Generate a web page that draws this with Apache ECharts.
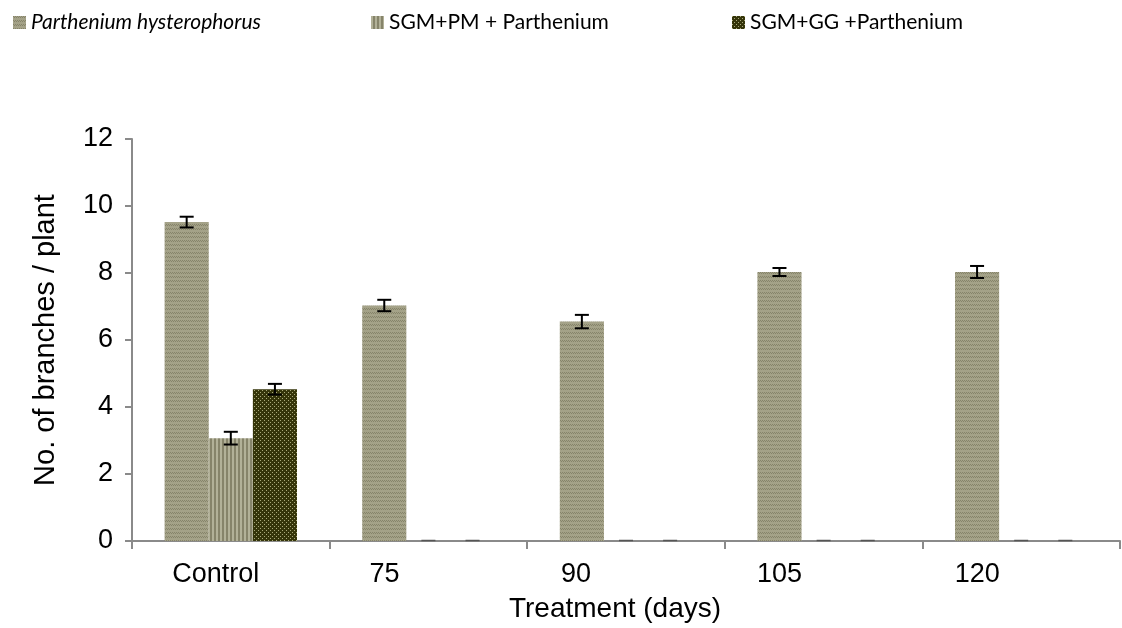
<!DOCTYPE html>
<html>
<head>
<meta charset="utf-8">
<script src="https://cdn.jsdelivr.net/npm/echarts@6/dist/echarts.min.js"></script>
<style>html,body{margin:0;padding:0;background:#fff;}#c{width:1122px;height:628px;}</style>
</head>
<body>
<div id="c"></div>
<script>
// ---- data ----
const categories = ['Control', '75', '90', '105', '120'];
const seriesNames = ['Parthenium hysterophorus', 'SGM+PM + Parthenium', 'SGM+GG +Parthenium'];
const partheniumValues = [9.52, 7.03, 6.55, 8.03, 8.03];
const partheniumErrors = [0.16, 0.17, 0.2, 0.12, 0.18];
const sgmPmValues = [3.07, 0, 0, 0, 0];
const sgmPmErrors = [0.19, 0, 0, 0, 0];
const sgmGgValues = [4.53, 0, 0, 0, 0];
const sgmGgErrors = [0.16, 0, 0, 0, 0];
const yTicks = { min: 0, max: 12, interval: 2 };

// ---- patterns ----
function makeTile(w, h, draw) {
  const c = document.createElement('canvas');
  c.width = w; c.height = h;
  const g = c.getContext('2d');
  draw(g);
  return c;
}
const pat1 = makeTile(4, 4, g => {
  g.fillStyle = '#a4a288'; g.fillRect(0, 0, 4, 4);
  g.fillStyle = '#86846a';
  g.fillRect(0, 0, 1, 1); g.fillRect(2, 0, 1, 1);
  g.fillRect(1, 1, 1, 1); g.fillRect(3, 1, 1, 1);
});
const pat2 = makeTile(4, 4, g => {
  g.fillStyle = '#b2b198'; g.fillRect(0, 0, 4, 4);
  g.fillStyle = '#86846a'; g.fillRect(2, 0, 2, 4);
});
const pat3 = makeTile(4, 4, g => {
  g.fillStyle = '#35350a'; g.fillRect(0, 0, 4, 4);
  g.fillStyle = '#a9a97a';
  g.fillRect(0, 0, 1, 1); g.fillRect(2, 2, 1, 1);
});
const fills = [
  { image: pat1, repeat: 'repeat' },
  { image: pat2, repeat: 'repeat' },
  { image: pat3, repeat: 'repeat' }
];

const GAP = 0.33;
function errSeries(idx, values, errors) {
  return {
    type: 'custom',
    name: 'err' + idx,
    z: 10,
    data: values.map((v, i) => [i, v, errors[i]]),
    renderItem: function (params, api) {
      const x = api.value(0), v = api.value(1), e = api.value(2);
      const catW = api.size([1, 0])[0];
      const barW = catW * (1 - GAP) / 3;
      const cx = api.coord([x, v])[0] + (idx - 1) * barW;
      const top = api.coord([x, v + e])[1];
      const bot = api.coord([x, Math.max(0, v - e)])[1];
      const hw = 7;
      if (e === 0) {
        const y0 = api.coord([x, v])[1];
        return { type: 'line', shape: { x1: cx - hw, y1: y0 - 0.5, x2: cx + hw, y2: y0 - 0.5 },
                 style: { stroke: '#555', lineWidth: 1.5 } };
      }
      const st = { stroke: '#000', lineWidth: 2 };
      return { type: 'group', children: [
        { type: 'line', shape: { x1: cx, y1: top, x2: cx, y2: bot }, style: st },
        { type: 'line', shape: { x1: cx - hw, y1: top, x2: cx + hw, y2: top }, style: st },
        { type: 'line', shape: { x1: cx - hw, y1: bot, x2: cx + hw, y2: bot }, style: st }
      ]};
    }
  };
}

const labelShift = { 'Control': 30, '75': 88, '90': 100, '105': 88, '120': 88 };
const rich = {};
categories.forEach((c, i) => {
  rich['c' + i] = { fontSize: 27, fontFamily: 'Liberation Sans', color: '#000', padding: [0, labelShift[c], 0, 0] };
});

const legendBase = {
  top: 7, itemWidth: 13, itemHeight: 13, icon: 'rect', itemGap: 0,
  textStyle: { fontFamily: 'Lato', fontSize: 21, color: '#000' }
};

const chart = echarts.init(document.getElementById('c'), null, { renderer: 'canvas' });
chart.setOption({
  animation: false,
  backgroundColor: '#fff',
  legend: [
    Object.assign({}, legendBase, { left: 8, data: [seriesNames[0]],
      textStyle: { fontFamily: 'Lato', fontSize: 21, color: '#000', fontStyle: 'italic' } }),
    Object.assign({}, legendBase, { left: 366, data: [seriesNames[1]] }),
    Object.assign({}, legendBase, { left: 727, data: [seriesNames[2]] })
  ],
  grid: { left: 132, right: 2, top: 139, bottom: 79, containLabel: false },
  xAxis: {
    type: 'category',
    data: categories,
    name: 'Treatment (days)',
    nameLocation: 'middle',
    nameGap: 54,
    nameTextStyle: { fontFamily: 'Liberation Sans', fontSize: 28, color: '#000', padding: [0, 22, 0, 0] },
    axisLine: { lineStyle: { color: '#8a8a8a', width: 2 } },
    axisTick: { show: true, length: 8, lineStyle: { color: '#8a8a8a', width: 2 } },
    axisLabel: {
      margin: 20,
      formatter: function (val, i) { return '{c' + i + '|' + val + '}'; },
      rich: rich
    }
  },
  yAxis: {
    type: 'value',
    min: yTicks.min, max: yTicks.max, interval: yTicks.interval,
    name: 'No. of branches / plant',
    nameLocation: 'middle',
    nameGap: 72,
    nameRotate: 90,
    nameTextStyle: { fontFamily: 'Liberation Sans', fontSize: 29, color: '#000' },
    splitLine: { show: false },
    axisLine: { show: true, lineStyle: { color: '#8a8a8a', width: 2 } },
    axisTick: { show: true, length: 7, lineStyle: { color: '#8a8a8a', width: 2 } },
    axisLabel: { margin: 19, fontFamily: 'Liberation Sans', fontSize: 27, color: '#000' }
  },
  series: [
    { type: 'bar', name: seriesNames[0], data: partheniumValues, barGap: '0%', barCategoryGap: (GAP * 100) + '%',
      itemStyle: { color: fills[0] } },
    { type: 'bar', name: seriesNames[1], data: sgmPmValues, barGap: '0%', barCategoryGap: (GAP * 100) + '%',
      itemStyle: { color: fills[1] } },
    { type: 'bar', name: seriesNames[2], data: sgmGgValues, barGap: '0%', barCategoryGap: (GAP * 100) + '%',
      itemStyle: { color: fills[2] } },
    errSeries(0, partheniumValues, partheniumErrors),
    errSeries(1, sgmPmValues, sgmPmErrors),
    errSeries(2, sgmGgValues, sgmGgErrors)
  ]
});
</script>
</body>
</html>
